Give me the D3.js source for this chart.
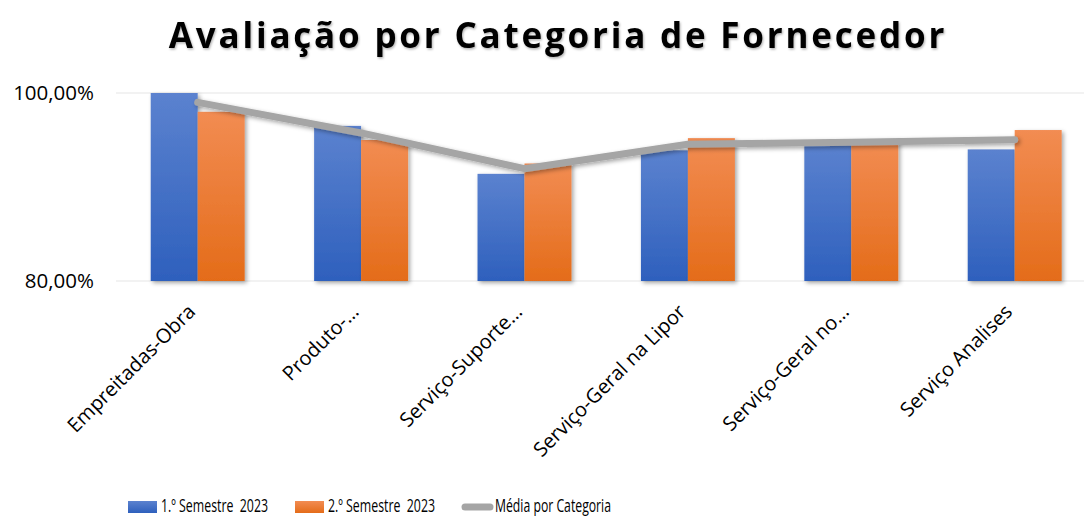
<!DOCTYPE html>
<html><head><meta charset="utf-8">
<script src="https://cdn.jsdelivr.net/npm/d3@7"></script>
<style>
html,body{margin:0;padding:0;background:#fff;}
svg{display:block;font-family:"Open Sans",sans-serif;}
text{white-space:pre;}
</style></head>
<body><svg id="c" width="1084" height="518"></svg>
<script>
const categories = ["Empreitadas-Obra","Produto-…","Serviço-Suporte…","Serviço-Geral na Lipor","Serviço-Geral no…","Serviço Analises"];
const sem1 = [100.0, 96.5, 91.4, 93.9, 94.7, 94.0];
const sem2 = [98.0, 95.0, 92.5, 95.2, 94.8, 96.06];
const media = [99.0, 95.75, 91.95, 94.55, 94.75, 95.03];
const yTicks = [80, 100];
const seriesNames = ["1.º Semestre  2023","2.º Semestre  2023","Média por Categoria"];
const title = "Avaliação por Categoria de Fornecedor";

const svg = d3.select("#c");
const defs = svg.append("defs");
function grad(id, top, bot){
  const g = defs.append("linearGradient").attr("id",id).attr("x1",0).attr("y1",0).attr("x2",0).attr("y2",1);
  g.append("stop").attr("offset","0%").attr("stop-color",top);
  g.append("stop").attr("offset","50%").attr("stop-color",d3.interpolateRgb(top,bot)(0.5));
  g.append("stop").attr("offset","100%").attr("stop-color",bot);
}
grad("gB","#5b82cf","#2e60bd");
grad("gO","#f28c52","#e46c19");
const f = defs.append("filter").attr("id","sh").attr("x","-20%").attr("y","-20%").attr("width","150%").attr("height","150%");
f.append("feDropShadow").attr("dx",2).attr("dy",2).attr("stdDeviation",2).attr("flood-color","#000").attr("flood-opacity",0.35);
const ft = defs.append("filter").attr("id","tsh").attr("x","-5%").attr("y","-20%").attr("width","110%").attr("height","150%");
ft.append("feDropShadow").attr("dx",1).attr("dy",1.5).attr("stdDeviation",1).attr("flood-color","#000").attr("flood-opacity",0.3);

const x0 = d3.scaleBand().domain(categories).range([116, 1096.4]).paddingInner(0.425).paddingOuter(0.2125);
const x1 = d3.scaleBand().domain([0,1]).range([0, x0.bandwidth()]);
const y = d3.scaleLinear().domain([80,100]).range([281,93]);

// gridlines
svg.append("g").selectAll("line").data(yTicks).join("line")
  .attr("x1",116).attr("x2",1084).attr("y1",d=>y(d)).attr("y2",d=>y(d))
  .attr("stroke","#e6e6e6").attr("stroke-width",1.2);

// y labels
const fmt = v => v.toFixed(2).replace(".",",") + "%";
svg.append("g").selectAll("text").data(yTicks).join("text")
  .attr("x",94).attr("y",d=>y(d)).attr("dy","0.35em").attr("text-anchor","end")
  .attr("font-size",20.5).attr("fill","#000").text(fmt);

// bars
const series = [{v:sem1,fill:"url(#gB)"},{v:sem2,fill:"url(#gO)"}];
series.forEach((s,si)=>{
  svg.append("g").attr("filter","url(#sh)").selectAll("rect").data(categories).join("rect")
    .attr("x",(c)=>x0(c)+x1(si)).attr("width",x1.bandwidth())
    .attr("y",(c,i)=>y(s.v[i])).attr("height",(c,i)=>y(80)-y(s.v[i]))
    .attr("fill",s.fill);
});

// line
const line = d3.line().x((d,i)=>x0(categories[i])+x0.bandwidth()/2).y(d=>y(d));
svg.append("path").datum(media).attr("d",line).attr("fill","none")
  .attr("stroke","#a5a5a5").attr("stroke-width",7).attr("stroke-linecap","round").attr("stroke-linejoin","round")
  .attr("filter","url(#sh)");

// category labels
svg.append("g").selectAll("text").data(categories).join("text")
  .attr("transform",c=>`translate(${x0(c)+x0.bandwidth()/2-11},${303}) rotate(-45)`)
  .attr("text-anchor","end").attr("dy","0.7em")
  .attr("font-size",20).attr("fill","#000").text(c=>c);

// title
svg.append("text").attr("x",558).attr("y",48).attr("text-anchor","middle")
  .attr("font-size",35).attr("font-weight","bold").attr("letter-spacing",2.8).attr("fill","#000")
  .attr("filter","url(#tsh)").text(title);

// legend
const leg = [{x:128,type:"rect",fill:"url(#gB)",w:107},{x:295,type:"rect",fill:"url(#gO)",w:107},{x:462,type:"line",w:116}];
leg.forEach((l,i)=>{
  if(l.type==="rect"){
    svg.append("rect").attr("x",l.x).attr("y",501).attr("width",29).attr("height",12).attr("fill",l.fill);
  } else {
    svg.append("line").attr("x1",l.x+3).attr("x2",l.x+28).attr("y1",507).attr("y2",507)
      .attr("stroke","#a5a5a5").attr("stroke-width",7).attr("stroke-linecap","round");
  }
  svg.append("text").attr("x",l.x+33).attr("y",512)
    .attr("font-size",19).attr("fill","#000")
    .attr("textLength",l.w).attr("lengthAdjust","spacingAndGlyphs").text(seriesNames[i]);
});
</script></body></html>
